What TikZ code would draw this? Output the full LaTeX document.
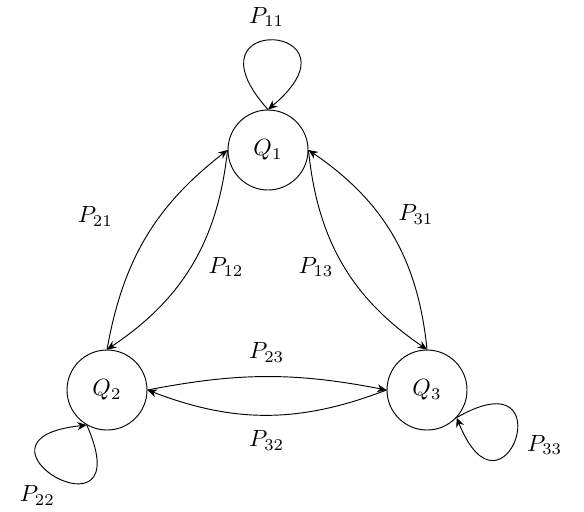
\documentclass[tikz,border=0pt]{standalone}
\usetikzlibrary{arrows.meta}

\begin{document}
\begin{tikzpicture}
\tikzset{
state/.style={draw,shape=circle,minimum size=1.2cm,inner sep=0pt},
trans/.style={-{Stealth[length=4pt,width=3.4pt]}}
}

	% frame
	\useasboundingbox (0,0) rectangle (8.76,7.665);

	% states
	\node[state] at (4.02,5.415) (1) {$Q_1$};
	\node[state] at (1.605,1.815) (2) {$Q_2$};
	\node[state] at (6.405,1.815) (3) {$Q_3$};

	% probabilities
	\node at (4.00,7.41) (p11) {$P_{11}$};
	\node at (1.43,4.42) (p21) {$P_{21}$};
	\node at (3.39,3.66) (p12) {$P_{12}$};
	\node at (4.74,3.66) (p13) {$P_{13}$};
	\node at (6.24,4.45) (p31) {$P_{31}$};
	\node at (4.00,2.38) (p23) {$P_{23}$};
	\node at (4.00,1.06) (p32) {$P_{32}$};
	\node at (0.56,0.23) (p22) {$P_{22}$};
	\node at (8.17,0.99) (p33) {$P_{33}$};

	\draw[trans] (2.north) to[bend left=21] (1.west);
	\draw[trans] (1.west) to[bend left=25] (2.north);
	\draw[trans] (1.east) to[bend right=25] (3.north);
	\draw[trans] (3.north) to[bend right=25] (1.east);
	\draw[trans] (2.east) to[bend left=11] (3.west);
	\draw[trans] (3.west) to[bend left=21] (2.east);

	\draw[trans] (1.north) to[out=132,in=40,min distance=2cm] (1.north);
	\draw[trans] (2.240) to[out=-66,in=186,min distance=2.05cm] (2.240);
	\draw[trans] (3.-43) to[out=30,in=-68,min distance=1.9cm] (3.-43);

\end{tikzpicture}
\end{document}
